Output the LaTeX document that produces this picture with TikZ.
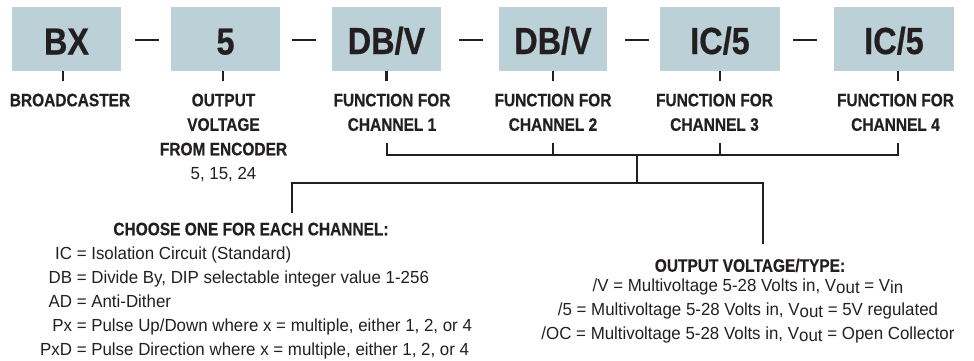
\documentclass[tikz,border=0pt]{standalone}
\usepackage{fontspec}
\setmainfont{Liberation Sans}[FakeStretch=0.965]
\newfontfamily\condbold{Liberation Sans}[FakeStretch=0.86, BoldFeatures={FakeBold=0.5}]
\usetikzlibrary{calc}
\definecolor{boxfill}{RGB}{188,208,215}
\definecolor{ink}{RGB}{35,31,32}
\newcommand{\Vsub}[1]{V\raisebox{-2.5pt}{#1}}
\begin{document}
\begin{tikzpicture}[x=1pt,y=-1pt,
  codebox/.style={fill=boxfill, minimum height=64pt, inner sep=0pt,
    font=\fontsize{37.7}{40}\selectfont\condbold\bfseries, text=ink,
    text height=31pt, text depth=0pt},
  dashbar/.style={fill=ink, minimum width=24pt, minimum height=2.2pt, inner sep=0pt},
  lbl/.style={anchor=north, align=center, inner sep=0pt,
    font=\fontsize{18}{24.5}\selectfont\condbold\bfseries, text=ink},
  body/.style={inner sep=0pt, font=\fontsize{17.5}{24}\selectfont, text=ink},
  wire/.style={draw=ink, line width=2.2pt, line join=miter},
]
\useasboundingbox (0,0) rectangle (974,360);

% code boxes
\node[codebox, minimum width=109pt] (bx) at (66.5,39) {BX};
\node[codebox, minimum width=109pt] (v5) at (225.5,39) {5};
\node[codebox, minimum width=109pt] (c1) at (386.5,38.5) {DB/V};
\node[codebox, minimum width=108pt] (c2) at (553,38.5) {DB/V};
\node[codebox, minimum width=120pt] (c3) at (720,38.5) {IC/5};
\node[codebox, minimum width=120pt] (c4) at (894,38.5) {IC/5};

% dashes between boxes
\node[dashbar] (d1) at (147,40) {};
\node[dashbar] (d2) at (303.5,40) {};
\node[dashbar] (d3) at (471,40) {};
\node[dashbar] (d4) at (636.5,40) {};
\node[dashbar] (d5) at (804.5,40) {};

% labels
\node[lbl] (lbx) at (70,93.5) {BROADCASTER};
\node[lbl] (lv5) at (223.5,93.5) {OUTPUT\\VOLTAGE\\FROM ENCODER\\{\normalfont\fontsize{17.5}{24.5}\selectfont 5, 15, 24}};
\node[lbl] (f1) at (392,93.5) {FUNCTION FOR\\CHANNEL 1};
\node[lbl] (f2) at (553,93.5) {FUNCTION FOR\\CHANNEL 2};
\node[lbl] (f3) at (714.5,93.5) {FUNCTION FOR\\CHANNEL 3};
\node[lbl] (f4) at (895.5,93.5) {FUNCTION FOR\\CHANNEL 4};

% ticks below boxes
\draw[wire] ([xshift=-3.5pt]bx.south) -- ++(0,10);
\draw[wire] ([xshift=-2.5pt]v5.south) -- ++(0,10);
\draw[wire] (c1.south) -- ++(0,10);
\draw[wire] (c2.south) -- ++(0,10);
\draw[wire] (c3.south) -- ++(0,10);
\draw[wire] ([xshift=4pt]c4.south) -- ++(0,10);

% bus
\coordinate (j1) at (387,155);
\coordinate (j2) at (553,155);
\coordinate (j3) at (720,155);
\coordinate (j4) at (898,155);
\coordinate (jm) at (637,155);
\coordinate (k) at (637,183);
\coordinate (kL) at (292,183);
\coordinate (kR) at (763,183);

% legends
\node[lbl] (choose) at (251,222.5) {CHOOSE ONE FOR EACH CHANNEL:};
\node[body, anchor=base west] (list) at (40,259.3) {\begin{tabular}[t]{@{}r@{ = }l@{}}
IC & Isolation Circuit (Standard)\\
DB & Divide By, DIP selectable integer value 1-256\\
AD & Anti-Dither\\
Px & Pulse Up/Down where x = multiple, either 1, 2, or 4\\
PxD & Pulse Direction where x = multiple, either 1, 2, or 4
\end{tabular}};
\node[lbl] (otitle) at (750,258.5) {OUTPUT VOLTAGE/TYPE:};
\node[body, anchor=north, align=center] (obody) at (748,278.5) {%
/V = Multivoltage 5-28 Volts in, \Vsub{out} = \Vsub{in}\\
/5 = Multivoltage 5-28 Volts in, \Vsub{out} = 5V regulated\\
/OC = Multivoltage 5-28 Volts in, \Vsub{out} = Open Collector};

% connectors
\draw[wire] ($(f1.south -| j1)+(0,12)$) |- (j4) -- ($(f4.south -| j4)+(0,12)$);
\draw[wire] ($(f2.south -| j2)+(0,12)$) -- (j2);
\draw[wire] ($(f3.south -| j3)+(0,12)$) -- (j3);
\draw[wire] (jm) -- (k);
\draw[wire] ($(choose.north -| kL)+(0,-10)$) |- (kR) -- ($(otitle.north -| kR)+(0,-15)$);
\end{tikzpicture}
\end{document}
